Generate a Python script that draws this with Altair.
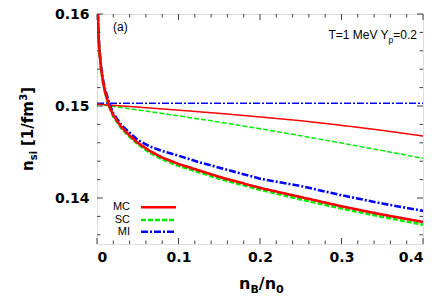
import altair as alt
import pandas as pd
import numpy as np

# ---------------- data ----------------
nB_low = [0.0007, 0.001, 0.0015, 0.002, 0.003, 0.005, 0.0075, 0.01, 0.015, 0.02, 0.03,
          0.04, 0.05, 0.065, 0.08, 0.1, 0.125, 0.15, 0.175, 0.2, 0.25, 0.3, 0.35, 0.4]
mc_low = [0.1613, 0.1600, 0.1585, 0.1574, 0.1559, 0.1541, 0.1526, 0.1515, 0.1500, 0.1490, 0.1477,
          0.1468, 0.1460, 0.1451, 0.1444, 0.1437, 0.1430, 0.1423, 0.1417, 0.1411, 0.1401, 0.1391, 0.1382, 0.1374]
sc_low = [0.1612, 0.1599, 0.1584, 0.1573, 0.1558, 0.1540, 0.1525, 0.1514, 0.1499, 0.14885, 0.14755,
          0.14665, 0.14585, 0.1449, 0.1442, 0.1435, 0.1428, 0.1421, 0.1415, 0.1409, 0.13985, 0.13885, 0.13795, 0.1371]
mi_low = [0.1614, 0.1601, 0.1587, 0.1576, 0.1561, 0.1543, 0.1528, 0.1518, 0.1503, 0.1492, 0.1479,
          0.1471, 0.1463, 0.1456, 0.1451, 0.1446, 0.1439, 0.1433, 0.1427, 0.1421, 0.1413, 0.1403, 0.1394, 0.1386]

nB_up = [0.0, 0.05, 0.1, 0.15, 0.2, 0.25, 0.3, 0.35, 0.4]
mc_up = [0.1502, 0.14988, 0.14955, 0.14920, 0.14881, 0.14840, 0.14790, 0.14735, 0.14674]
sc_up = [0.1502, 0.14957, 0.14893, 0.14825, 0.14753, 0.14677, 0.14597, 0.14516, 0.14431]
mi_up = [0.1503, 0.1503, 0.1503, 0.1503, 0.1503, 0.1503, 0.1503, 0.1503, 0.1503]

x_major = [0, 0.1, 0.2, 0.3, 0.4]
y_major = [0.14, 0.15, 0.16]
x_minor = [0.02, 0.04, 0.06, 0.08, 0.12, 0.14, 0.16, 0.18, 0.22, 0.24, 0.26, 0.28,
           0.32, 0.34, 0.36, 0.38]
y_minor = [0.136, 0.138, 0.142, 0.144, 0.146, 0.148, 0.152, 0.154, 0.156, 0.158]

series = ["MC", "SC", "MI"]
colors = {"MC": "#ff0000", "SC": "#00ee00", "MI": "#0000ff"}
dashes = {"MC": [1, 0], "SC": [5, 2], "MI": [7, 2, 2, 2]}

W, H = 326, 230
FRAME = "#404040"
XD = [0, 0.4]
YD = [0.135, 0.16]

xs = alt.Scale(domain=XD, nice=False, zero=False)
ys = alt.Scale(domain=YD, nice=False, zero=False)

layers = []

low_vals = {"MC": mc_low, "SC": sc_low, "MI": mi_low}
up_vals = {"MC": mc_up, "SC": sc_up, "MI": mi_up}

for s in ["MI", "SC", "MC"]:
    df = pd.DataFrame({"nB": nB_up, "v": up_vals[s]})
    enc = dict(x=alt.X("nB:Q", scale=xs), y=alt.Y("v:Q", scale=ys), order="nB:Q")
    layers.append(alt.Chart(df).mark_line(color=colors[s], strokeDash=dashes[s],
                                          strokeWidth=1.5, clip=True).encode(**enc))
for s in ["MI", "SC", "MC"]:
    df = pd.DataFrame({"nB": nB_low, "v": low_vals[s]})
    enc = dict(x=alt.X("nB:Q", scale=xs), y=alt.Y("v:Q", scale=ys), order="nB:Q")
    layers.append(alt.Chart(df).mark_line(color=colors[s], strokeDash=dashes[s],
                                          strokeWidth=2.6, clip=True).encode(**enc))

# axes (labels only)
axis_base = alt.Chart(pd.DataFrame({"nB": [0.0], "v": [0.15]})).mark_point(opacity=0).encode(
    x=alt.X("nB:Q", scale=xs, axis=alt.Axis(values=x_major, format="~g", title=None, ticks=False,
                                            tickSize=0, domain=False, grid=False, labelPadding=6,
                                            labelFont="DejaVu Sans", labelFontWeight="bold",
                                            labelFontSize=14, labelColor="#000000")),
    y=alt.Y("v:Q", scale=ys, axis=alt.Axis(values=y_major, format=".2f", title=None, ticks=False,
                                           tickSize=0, domain=False, grid=False, labelPadding=8,
                                           labelFont="DejaVu Sans", labelFontWeight="bold",
                                           labelFontSize=14, labelColor="#000000")),
)
layers.insert(0, axis_base)

# inward ticks on all four sides
def xticks(vals, ln):
    df = pd.DataFrame({"t": vals})
    bot = alt.Chart(df).mark_rule(color=FRAME, strokeWidth=1).encode(
        x=alt.X("t:Q", scale=xs), y=alt.value(H), y2=alt.value(H - ln))
    top = alt.Chart(df).mark_rule(color=FRAME, strokeWidth=1).encode(
        x=alt.X("t:Q", scale=xs), y=alt.value(0), y2=alt.value(ln))
    return [bot, top]

def yticks(vals, ln):
    df = pd.DataFrame({"t": vals})
    left = alt.Chart(df).mark_rule(color=FRAME, strokeWidth=1).encode(
        y=alt.Y("t:Q", scale=ys), x=alt.value(0), x2=alt.value(ln))
    right = alt.Chart(df).mark_rule(color=FRAME, strokeWidth=1).encode(
        y=alt.Y("t:Q", scale=ys), x=alt.value(W), x2=alt.value(W - ln))
    return [left, right]

layers += xticks(x_major, 6) + xticks(x_minor, 3.5) + yticks(y_major, 6) + yticks(y_minor, 3.5)

# legend (manual, bottom-left inside)
leg_y = [193.3, 206, 217.7]
for s, yy in zip(series, leg_y):
    layers.append(alt.Chart(pd.DataFrame({"s": [s]})).mark_rule(
        color=colors[s], strokeDash=dashes[s], strokeWidth=2.6).encode(
        x=alt.value(44), x2=alt.value(79), y=alt.value(yy)))
    layers.append(alt.Chart(pd.DataFrame({"s": [s]})).mark_text(
        align="right", baseline="middle", font="Liberation Sans", fontSize=11, color="#000000").encode(
        x=alt.value(33), y=alt.value(yy), text="s:N"))

def txt(t, x, y, size, weight="normal", font="Liberation Sans", angle=0, align="left",
        baseline="alphabetic"):
    kw = dict(align=align, baseline=baseline, font=font, fontSize=size, fontWeight=weight,
              color="#000000")
    if angle:
        kw["angle"] = angle
    return alt.Chart(pd.DataFrame({"t": [t]})).mark_text(**kw).encode(
        x=alt.value(x), y=alt.value(y), text="t:N")

# annotations
layers.append(txt("(a)", 16, 13, 12, baseline="middle"))
layers.append(txt("=0.2", 320, 25.3, 12, align="right"))
layers.append(txt("p", 296.3, 28.5, 8.5, align="right"))
layers.append(txt("T=1 MeV Y", 291.6, 25.3, 12, align="right"))

# x title  n_B/n_0
BF = "DejaVu Sans"
layers.append(txt("n", 142, 275, 16, "bold", BF))
layers.append(txt("B", 153.4, 279, 11, "bold", BF))
layers.append(txt("/n", 161.8, 275, 16, "bold", BF))
layers.append(txt("0", 179.0, 279, 11, "bold", BF))

# y title  n_si [1/fm^3]
xb = -64.5
layers.append(txt("n", xb, 157, 15, "bold", BF, angle=270))
layers.append(txt("si", xb + 4, 146.3, 10, "bold", BF, angle=270))
layers.append(txt("[1/fm", xb, 132.0, 15, "bold", BF, angle=270))
layers.append(txt("3", xb - 6, 86.8, 10, "bold", BF, angle=270))
layers.append(txt("]", xb, 79.8, 15, "bold", BF, angle=270))

chart = alt.layer(*layers).properties(
    width=W, height=H,
    autosize=alt.AutoSizeParams(type="none"),
    padding={"left": 89, "top": 6, "right": 11, "bottom": 56},
).configure_view(stroke=FRAME, strokeWidth=1.2).configure(background="white")

chart.save("out.html", embed_options={"renderer": "svg", "actions": False})
